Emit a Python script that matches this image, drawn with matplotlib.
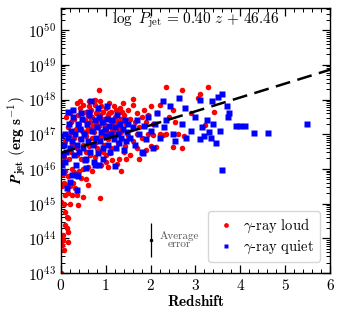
import matplotlib
matplotlib.use("Agg")
import matplotlib.pyplot as plt
from matplotlib.ticker import FixedLocator, FuncFormatter, MultipleLocator, LogLocator
import numpy as np

plt.rcParams["mathtext.fontset"] = "cm"
plt.rcParams["font.family"] = "cmr10"
plt.rcParams["axes.formatter.use_mathtext"] = True

# gamma-ray loud sources: redshift, log10 Pjet
red_z = [0.01, 0.02, 0.07, 0.05, 0.15, 0.05, 0.16, 0.13, 0.09, 0.16, 0.13, 0.10, 0.08, 0.01,
         0.09, 0.16, 0.24, 0.20, 0.39, 0.50, 0.35, 0.87, 0.03, 0.06, 0.12, 0.20, 0.28, 0.32,
         0.45, 0.55, 0.60, 0.05, 0.10, 0.15, 0.25, 0.30, 0.40, 0.50, 0.60, 0.70, 0.90, 1.00,
         1.05, 1.15, 1.25, 1.30, 1.35, 0.02, 0.08, 0.18, 0.22, 0.35, 0.45, 0.55, 0.65, 0.75,
         0.80, 0.95, 1.10, 1.40, 1.55, 1.70, 1.90, 2.00, 1.75, 1.45, 1.00,
         0.12, 0.15, 0.20, 0.22, 0.28, 0.30, 0.35, 0.38, 0.40, 0.42, 0.45, 0.48, 0.50, 0.52,
         0.55, 0.58, 0.60, 0.62, 0.65, 0.68, 0.70, 0.72, 0.75, 0.78, 0.80, 0.82, 0.85, 0.85,
         0.88, 0.90, 0.92, 0.95, 0.98, 1.00, 1.02, 1.05, 1.08, 1.10, 1.12, 1.15, 1.18, 1.20,
         1.22, 1.25, 1.28, 1.30, 1.32, 1.35, 1.38, 1.40, 1.45, 1.50, 1.55, 1.60, 1.61, 1.65,
         1.70, 1.75, 1.80, 1.85, 1.90, 1.95, 2.00, 2.05, 2.15, 2.20, 2.34, 2.40, 2.50, 2.69,
         2.55, 2.90, 3.10, 3.28, 3.06, 3.41, 3.21,
         0.10, 0.18, 0.25, 0.30, 0.36, 0.42, 0.50, 0.55, 0.62, 0.70, 0.76, 0.83, 0.90, 0.97,
         1.05, 1.12, 1.20, 1.28, 1.35, 1.42, 1.50, 1.60, 1.70, 1.80, 1.95, 2.05, 2.13, 2.20,
         2.28, 2.35, 2.50, 2.69, 2.60, 2.75,
         0.25, 0.33, 0.47, 0.57, 0.67, 0.73, 0.93, 1.03, 1.17, 1.27, 0.43, 0.63, 0.77, 0.87,
         0.53, 0.66, 0.79, 0.91, 1.07, 1.23, 1.37, 0.58, 0.71, 0.97, 1.13, 1.33]
red_logp = [43.00, 43.80, 43.66, 43.95, 43.90, 44.10, 44.19, 44.30, 44.38, 44.58, 44.62, 44.75, 45.00, 45.05,
            45.25, 45.30, 45.25, 45.00, 44.96, 45.20, 45.25, 45.15, 45.50, 45.60, 45.55, 45.50, 45.60, 45.45,
            45.75, 45.70, 45.55, 45.85, 45.95, 45.80, 46.00, 45.90, 45.95, 46.00, 46.05, 45.95, 46.10, 46.20,
            46.05, 46.25, 46.15, 46.30, 45.95, 46.20, 46.35, 46.30, 46.50, 46.40, 46.30, 46.50, 46.40, 46.35,
            46.60, 46.50, 46.45, 46.50, 46.40, 46.60, 46.55, 46.65, 46.30, 46.30, 46.40,
            47.49, 47.20, 47.60, 47.35, 47.70, 47.45, 47.91, 47.55, 47.30, 47.75, 47.15, 47.60, 47.85, 47.40,
            47.65, 47.25, 47.55, 47.80, 47.35, 47.70, 47.50, 47.20, 47.85, 47.60, 47.40, 47.70, 48.27, 47.25,
            47.55, 47.80, 47.35, 47.65, 47.45, 47.75, 47.20, 47.55, 47.90, 47.40, 47.65, 47.30, 47.80, 47.50,
            47.70, 47.35, 47.60, 47.20, 47.75, 47.45, 47.90, 47.55, 47.30, 47.70, 47.45, 47.85, 48.02, 47.35,
            47.60, 47.20, 47.50, 47.70, 47.35, 47.55, 47.80, 47.30, 47.60, 47.85, 48.35, 47.50, 47.70, 48.27,
            47.35, 47.60, 48.16, 48.37, 48.04, 47.65, 47.26,
            46.80, 46.95, 46.70, 46.90, 46.60, 46.85, 46.70, 46.95, 46.65, 46.90, 46.75, 46.55, 46.95, 46.70,
            46.85, 46.60, 46.95, 46.75, 46.90, 46.65, 46.95, 46.80, 47.00, 46.90, 47.00, 46.98, 46.64, 47.00,
            46.98, 47.02, 46.64, 46.59, 47.00, 46.95,
            47.05, 47.15, 47.10, 47.05, 47.15, 47.05, 47.10, 47.05, 47.10, 47.15, 47.95, 47.95, 48.00, 47.95,
            47.40, 47.50, 47.30, 47.45, 47.60, 47.40, 47.65, 47.10, 47.25, 47.30, 47.15, 47.05]

# gamma-ray quiet sources
blue_z = [0.02, 0.05, 0.08, 0.10, 0.12, 0.15, 0.18, 0.20, 0.22, 0.25, 0.28, 0.30, 0.32, 0.35,
          0.38, 0.40, 0.42, 0.45, 0.48, 0.50, 0.52, 0.55, 0.58, 0.60, 0.62, 0.65, 0.68, 0.70,
          0.72, 0.75, 0.78, 0.80, 0.82, 0.85, 0.88, 0.90, 0.92, 0.95, 0.98, 1.00, 1.02, 1.05,
          1.08, 1.10, 1.12, 1.15, 1.18, 1.20, 1.22, 1.25, 1.28, 1.30, 1.32, 1.35, 1.38, 1.40,
          1.42, 1.45, 1.48, 1.50,
          1.55, 1.60, 1.65, 1.70, 1.75, 1.80, 1.85, 1.90, 1.95, 2.00, 2.05, 2.10, 2.15, 2.20,
          2.28, 2.30, 2.35, 2.43, 2.50, 2.55, 2.64, 2.70, 2.77, 2.80, 2.90, 3.00, 3.10, 3.10,
          3.15, 3.20, 3.25, 3.30, 3.38, 3.35, 3.40, 3.45, 3.50, 3.60, 3.55, 3.60, 3.70, 3.75,
          3.72, 3.90, 4.00, 4.10, 4.30, 4.62, 5.48,
          0.13, 0.35, 0.20, 0.24, 0.35, 0.38, 0.57, 0.76, 0.85, 1.20, 0.33, 0.05, 0.10, 1.82,
          0.00, 0.15, 0.27, 0.44, 0.63, 0.83, 1.03, 0.53, 0.73, 0.93]
blue_logp = [46.10, 46.40, 46.70, 47.00, 46.50, 46.90, 47.30, 46.60, 47.10, 46.80, 47.50, 46.40, 47.00, 46.70,
             47.30, 46.50, 47.15, 46.85, 47.45, 46.60, 47.00, 46.30, 47.30, 46.80, 47.55, 46.50, 47.96, 47.10,
             46.70, 47.40, 46.90, 47.20, 46.45, 47.50, 46.80, 47.05, 47.35, 46.60, 47.15, 46.95, 47.45, 46.70,
             47.25, 46.50, 47.00, 47.40, 46.85, 47.20, 46.60, 47.55, 47.00, 46.75, 47.30, 46.90, 47.15, 46.55,
             47.40, 46.80, 47.05, 47.30,
             46.90, 47.20, 46.70, 47.40, 47.00, 46.50, 47.25, 46.85, 47.50, 47.10, 46.60, 47.30, 47.60, 46.90,
             47.96, 47.20, 47.40, 47.82, 47.00, 46.80, 48.05, 47.30, 47.75, 46.90, 47.10, 47.50, 47.99, 46.85,
             47.20, 46.95, 47.40, 47.05, 47.96, 46.90, 47.30, 46.75, 48.08, 48.15, 47.10, 45.97, 47.81, 47.60,
             47.50, 47.24, 47.24, 47.24, 47.03, 47.04, 47.29,
             45.44, 45.40, 45.63, 45.82, 45.82, 45.80, 46.02, 46.10, 46.10, 46.08, 46.10, 45.90, 46.20, 46.45,
             46.95, 47.65, 47.70, 47.60, 47.65, 47.75, 47.80, 46.25, 46.20, 46.30]

slope = 0.40
intercept = 46.46

fig = plt.figure(figsize=(3.42, 3.18), dpi=100)
ax = fig.add_axes([0.178, 0.1415, 0.787, 0.8335])

ax.plot(red_z, 10 ** np.array(red_logp), "o", color="red", ms=4.0, mec="none",
        label=r"$\gamma$-ray loud", zorder=2)
ax.plot(blue_z, 10 ** np.array(blue_logp), "s", color="blue", ms=3.9, mec="none",
        label=r"$\gamma$-ray quiet", zorder=2)

zz = np.linspace(0, 6, 50)
ax.plot(zz, 10 ** (slope * zz + intercept), "--", color="black", lw=1.8,
        dashes=(6, 3), zorder=3)

# average error bar
ax.errorbar([2.0], [10 ** 43.95], yerr=[[10 ** 43.95 - 10 ** 43.45], [10 ** 44.45 - 10 ** 43.95]],
            fmt="o", ms=1.5, color="black", elinewidth=0.9, capsize=0)
ax.text(2.65, 10 ** 43.95, "Average\nerror", ha="center", va="center",
        fontsize=8, color="#555555", linespacing=0.9)

ax.text(0.5, 0.955, r"$\log\ P_{\rm jet}\,=\,0.40\ z\,+\,46.46$", transform=ax.transAxes,
        ha="center", va="center", fontsize=11)

ax.set_yscale("log")
ax.set_xlim(0, 6)
ax.set_ylim(1e43, 10 ** 50.64)
ax.xaxis.set_major_locator(MultipleLocator(1))
ax.xaxis.set_minor_locator(MultipleLocator(0.2))
ax.yaxis.set_major_locator(FixedLocator([10.0 ** k for k in range(43, 51)]))
ax.yaxis.set_minor_locator(LogLocator(base=10, subs=np.arange(2, 10)))
ax.yaxis.set_major_formatter(FuncFormatter(lambda v, p: r"$\mathbf{10^{%d}}$" % round(np.log10(v))))
ax.xaxis.set_major_formatter(FuncFormatter(lambda v, p: r"$\mathbf{%d}$" % round(v)))
ax.tick_params(which="both", direction="in", top=True, right=True)
ax.tick_params(which="major", length=6, width=0.9, labelsize=11)
ax.tick_params(which="minor", length=3, width=0.7)
for s in ax.spines.values():
    s.set_linewidth(1.0)

ax.set_xlabel(r"$\mathbf{Redshift}$", fontsize=11, labelpad=1)
ax.set_ylabel(r"$\mathbfit{P}_{\mathbf{jet}}\ \mathbf{(erg\ s^{-1})}$", fontsize=11, labelpad=0)

ax.legend(loc="lower right", fontsize=10.5, handletextpad=0.4, borderpad=0.4,
          labelspacing=0.25, handlelength=1.6, markerscale=0.85, frameon=True,
          fancybox=True, edgecolor="#cccccc", bbox_to_anchor=(0.99, 0.015))

fig.savefig("out.png", dpi=100)
